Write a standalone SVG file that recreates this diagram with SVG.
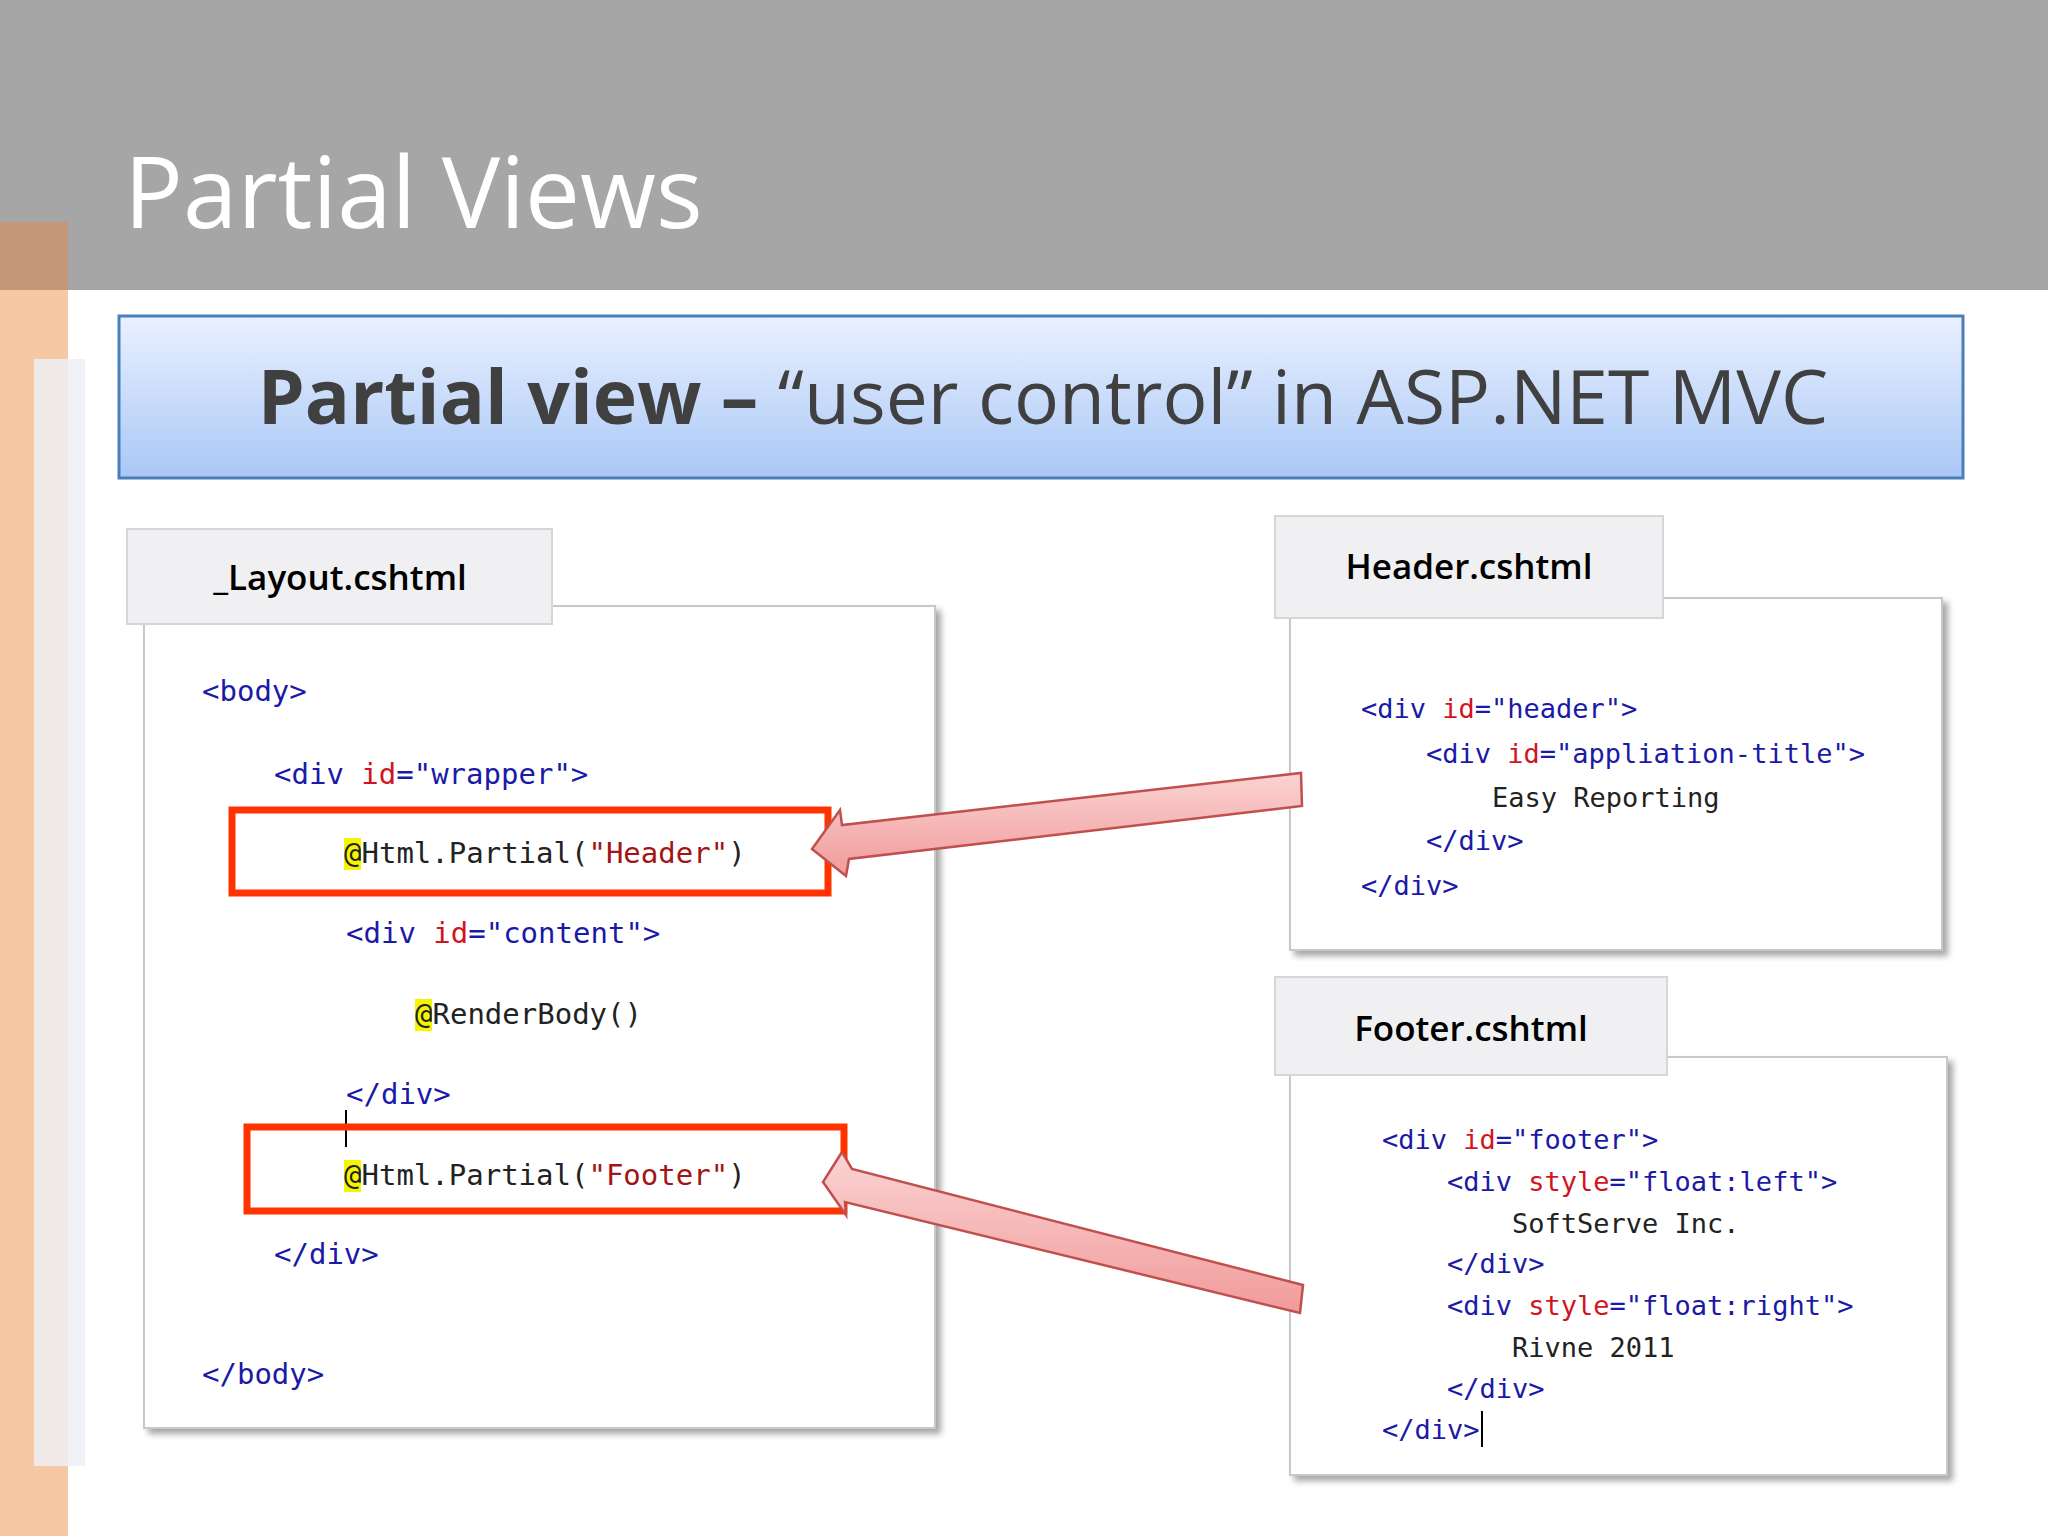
<svg xmlns="http://www.w3.org/2000/svg" width="2048" height="1536" viewBox="0 0 2048 1536">
<defs>
<linearGradient id="sub" x1="0" y1="0" x2="0" y2="1"><stop offset="0" stop-color="#eaf1ff"/><stop offset="1" stop-color="#a9c7f6"/></linearGradient>
<linearGradient id="arr" x1="0" y1="0" x2="0" y2="1"><stop offset="0" stop-color="#fbd3d3"/><stop offset="1" stop-color="#f19a9a"/></linearGradient>
<filter id="sh" x="-5%" y="-5%" width="110%" height="110%"><feDropShadow dx="5" dy="5" stdDeviation="3" flood-color="#000" flood-opacity="0.35"/></filter>
<style>
.tab{fill:#f0f0f2;stroke:#d6d6d8;stroke-width:2}
.body{fill:#fff;stroke:#c8c8c8;stroke-width:2;filter:url(#sh)}
.tt{font-family:"Open Sans","Noto Sans",sans-serif;font-weight:600;font-size:35px;fill:#000;text-anchor:middle}
.c{font-family:"DejaVu Sans Mono","Liberation Mono",monospace;fill:#1a1aa6}
.l{font-size:29px}.s{font-size:27px}
.r{fill:#d2141e}.b{fill:#1a1aa6}.k{fill:#222}.sv{fill:#a31515}
.box{fill:none;stroke:#ff3300;stroke-width:7}
.ar{fill:url(#arr);stroke:#c0504d;stroke-width:2.5;stroke-linejoin:miter}
.hl{fill:#f5f500}
</style>
</defs>
<rect width="2048" height="1536" fill="#fff"/>
<rect width="2048" height="290" fill="#a6a6a6"/>
<rect x="0" y="222" width="68" height="1314" fill="#f7c8a4"/>
<rect x="0" y="222" width="68" height="68" fill="#c4977a"/>
<rect x="34" y="359" width="51" height="1107" fill="#eef0f6" opacity="0.85"/>
<text x="124" y="228" font-family="'Open Sans','Noto Sans',sans-serif" font-size="98" fill="#fff">Partial Views</text>
<g id="subtitle">
<rect x="119" y="316" width="1844" height="162" fill="url(#sub)" stroke="#4a7ebb" stroke-width="3"/>
<text x="1043" y="424" text-anchor="middle" font-family="'Open Sans','Noto Sans',sans-serif" font-size="75" fill="#404040"><tspan font-weight="bold">Partial view –</tspan> “user control” in ASP.NET MVC</text>
</g>
<g id="layout">
<rect class="body" x="144" y="606" width="791" height="822"/>
<rect class="tab" x="127" y="529" width="425" height="95"/>
<text class="tt" x="340" y="590">_Layout.cshtml</text>
<rect class="hl" x="344" y="838" width="17" height="32"/>
<rect class="hl" x="415" y="999" width="17" height="32"/>
<rect class="hl" x="344" y="1160" width="17" height="32"/>
<g class="c l">
<text x="202" y="701">&lt;body&gt;</text>
<text x="274" y="784">&lt;div <tspan class="r">id</tspan>=<tspan class="b">"wrapper"</tspan>&gt;</text>
<text x="344" y="863" class="k">@Html.Partial(<tspan class="sv">"Header"</tspan>)</text>
<text x="346" y="943">&lt;div <tspan class="r">id</tspan>=<tspan class="b">"content"</tspan>&gt;</text>
<text x="415" y="1024" class="k">@RenderBody()</text>
<text x="346" y="1104">&lt;/div&gt;</text>
<text x="344" y="1185" class="k">@Html.Partial(<tspan class="sv">"Footer"</tspan>)</text>
<text x="274" y="1264">&lt;/div&gt;</text>
<text x="202" y="1384">&lt;/body&gt;</text>
</g>
<line x1="346" y1="1110" x2="346" y2="1147" stroke="#000" stroke-width="2"/>
<rect class="box" x="232" y="810" width="596" height="83"/>
<rect class="box" x="247" y="1127" width="597" height="84"/>
</g>
<g id="header">
<rect class="body" x="1290" y="598" width="652" height="352"/>
<rect class="tab" x="1275" y="516" width="388" height="102"/>
<text class="tt" x="1469" y="579">Header.cshtml</text>
<g class="c s">
<text x="1361" y="718">&lt;div <tspan class="r">id</tspan>=<tspan class="b">"header"</tspan>&gt;</text>
<text x="1426" y="763">&lt;div <tspan class="r">id</tspan>=<tspan class="b">"appliation-title"</tspan>&gt;</text>
<text x="1492" y="807" class="k">Easy Reporting</text>
<text x="1426" y="850">&lt;/div&gt;</text>
<text x="1361" y="895">&lt;/div&gt;</text>
</g>
</g>
<g id="footer">
<rect class="body" x="1290" y="1057" width="657" height="418"/>
<rect class="tab" x="1275" y="977" width="392" height="98"/>
<text class="tt" x="1471" y="1041">Footer.cshtml</text>
<g class="c s">
<text x="1382" y="1149">&lt;div <tspan class="r">id</tspan>=<tspan class="b">"footer"</tspan>&gt;</text>
<text x="1447" y="1191">&lt;div <tspan class="r">style</tspan>=<tspan class="b">"float:left"</tspan>&gt;</text>
<text x="1512" y="1233" class="k">SoftServe Inc.</text>
<text x="1447" y="1273">&lt;/div&gt;</text>
<text x="1447" y="1315">&lt;div <tspan class="r">style</tspan>=<tspan class="b">"float:right"</tspan>&gt;</text>
<text x="1512" y="1357" class="k">Rivne 2011</text>
<text x="1447" y="1398">&lt;/div&gt;</text>
<text x="1382" y="1439">&lt;/div&gt;</text>
</g>
<line x1="1482" y1="1411" x2="1482" y2="1447" stroke="#000" stroke-width="2"/>
</g>
<g id="connectors">
<polygon class="ar" points="1301,773 1302,806 849,859 846,876 812,849 840,810 842,825"/>
<polygon class="ar" points="1303,1285 1300,1313 845,1202 846,1215 823,1182 842,1152 852,1169"/>
</g>
</svg>
